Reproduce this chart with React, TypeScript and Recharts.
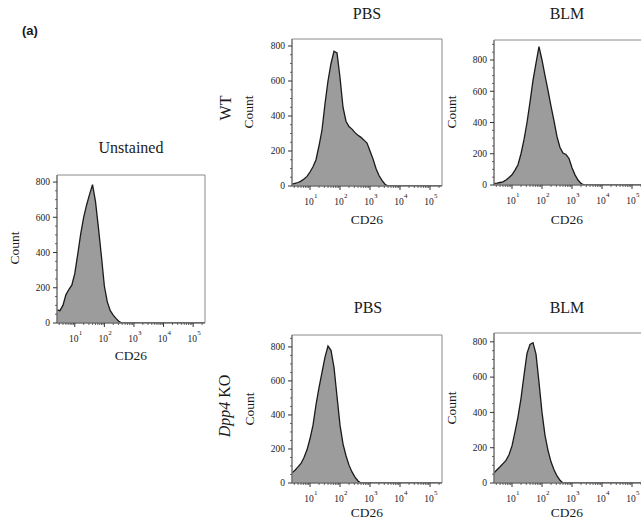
import React from 'react'
import { AreaChart, Area, XAxis, YAxis, ReferenceArea } from 'recharts'

// log10(CD26) bin centres, last one closes the histogram at the right edge
const LG_BINS = [0.4, 0.5, 0.6, 0.7, 0.8, 0.9, 1.0, 1.1, 1.2, 1.3, 1.4, 1.5, 1.6, 1.7, 1.8, 1.9, 2.0, 2.1, 2.2, 2.3, 2.4, 2.5, 2.6, 2.7, 2.8, 2.9, 3.0, 3.1, 3.2, 3.3, 3.4, 3.5, 3.6, 5.4]

const UNSTAINED = [75, 70, 100, 160, 190, 215, 280, 390, 505, 600, 670, 730, 785, 690, 540, 380, 210, 120, 70, 45, 25, 8, 0, 0, 0, 0, 0, 0, 0, 0, 0, 0, 0, 0]
const WT_PBS = [10, 15, 20, 28, 40, 55, 80, 110, 150, 230, 320, 470, 600, 700, 770, 760, 620, 450, 370, 340, 325, 305, 290, 278, 262, 245, 200, 155, 100, 60, 32, 10, 0, 0]
const WT_BLM = [10, 12, 16, 20, 32, 48, 65, 95, 130, 200, 290, 400, 530, 670, 780, 885, 800, 700, 605, 505, 410, 310, 240, 205, 195, 170, 110, 65, 32, 10, 0, 0, 0, 0]
const KO_PBS = [60, 75, 95, 115, 150, 195, 260, 340, 460, 560, 650, 740, 805, 780, 680, 510, 340, 230, 160, 105, 65, 35, 12, 0, 0, 0, 0, 0, 0, 0, 0, 0, 0, 0]
const KO_BLM = [57, 75, 92, 110, 128, 160, 210, 290, 375, 480, 610, 735, 785, 795, 730, 570, 400, 270, 185, 120, 75, 40, 15, 0, 0, 0, 0, 0, 0, 0, 0, 0, 0, 0]

const X_MAJOR = [1, 2, 3, 4, 5]
const Y_MAJOR = [0, 200, 400, 600, 800]
const X_DOMAIN: [number, number] = [0.4, 5.4]

const SERIF = '"Liberation Serif", "Times New Roman", serif'
const INK = '#1a1a1a'

function logMinorTicks() {
  const out: number[] = []
  for (let d = 0; d <= 5; d++) {
    for (let k = 2; k <= 9; k++) {
      const v = d + Math.log10(k)
      if (v > X_DOMAIN[0] && v < X_DOMAIN[1]) out.push(v)
    }
  }
  return out
}
const X_TICKS = [...X_MAJOR, ...logMinorTicks()].sort((a, b) => a - b)

function countTicks(max: number) {
  const out: number[] = []
  for (let v = 0; v < max; v += 50) out.push(v)
  return out
}

function LogTick({ x, y, payload }: any) {
  const v = payload.value
  if (!Number.isInteger(v)) {
    return <line x1={x} x2={x} y1={y} y2={y + 2} stroke="#444" strokeWidth={0.8} />
  }
  return (
    <g>
      <line x1={x} x2={x} y1={y} y2={y + 4} stroke="#333" strokeWidth={1} />
      <text x={x - 1} y={y + 19} textAnchor="middle" fontSize={9.5} fill={INK} fontFamily={SERIF}>10</text>
      <text x={x + 4} y={y + 12} fontSize={7} fill={INK} fontFamily={SERIF}>{v}</text>
    </g>
  )
}

function CountTick({ x, y, payload }: any) {
  const v = payload.value
  if (!Y_MAJOR.includes(v)) {
    return <line x1={x - 2} x2={x} y1={y} y2={y} stroke="#444" strokeWidth={0.8} />
  }
  return (
    <g>
      <line x1={x - 4} x2={x} y1={y} y2={y} stroke="#333" strokeWidth={1} />
      <text x={x - 7} y={y} dy="0.35em" textAnchor="end" fontSize={9.5} fill={INK} fontFamily={SERIF}>{v}</text>
    </g>
  )
}

const ML = 40
const MT = 4
const MB = 40
const MR = 4

function Histogram({ left, top, w, h, ymax, values }: { left: number; top: number; w: number; h: number; ymax: number; values: number[] }) {
  const rows = LG_BINS.map((lg, i) => ({ lg, count: values[i] }))
  return (
    <div style={{ position: 'absolute', left: left - ML, top: top - MT }}>
      <AreaChart width={w + ML + MR} height={h + MT + MB} data={rows} margin={{ top: MT, right: MR, bottom: 0, left: 0 }}>
        <XAxis xAxisId="b" type="number" dataKey="lg" domain={X_DOMAIN} ticks={X_TICKS} interval={0}
          height={MB} tickSize={0} tickMargin={0} tick={(p: any) => <LogTick {...p} />}
          axisLine={{ stroke: '#666' }} allowDataOverflow />
        <YAxis yAxisId="l" type="number" domain={[0, ymax]} ticks={countTicks(ymax)} interval={0}
          width={ML} tickSize={0} tickMargin={0} tick={(p: any) => <CountTick {...p} />}
          axisLine={{ stroke: '#666' }} allowDataOverflow />
        <Area xAxisId="b" yAxisId="l" type="linear" dataKey="count" fill="#9c9c9c" fillOpacity={1}
          stroke={INK} strokeWidth={1.3} isAnimationActive={false} dot={false} activeDot={false} />
        <ReferenceArea xAxisId="b" yAxisId="l" x1={X_DOMAIN[0]} x2={X_DOMAIN[1]} y1={0} y2={ymax}
          fill="none" stroke="#8a8a8a" strokeWidth={1} ifOverflow="visible" />
      </AreaChart>
    </div>
  )
}

function Txt({ x, y, size, rotate, children, style }: { x: number; y: number; size: number; rotate?: boolean; children: React.ReactNode; style?: React.CSSProperties }) {
  return (
    <div style={{
      position: 'absolute', left: x, top: y, fontSize: size, fontFamily: SERIF, color: INK,
      lineHeight: 1, whiteSpace: 'nowrap',
      transform: `translate(-50%, -50%)${rotate ? ' rotate(-90deg)' : ''}`,
      ...style,
    }}>{children}</div>
  )
}

export default function App() {
  return (
    <div style={{ position: 'absolute', left: 0, top: 0, width: 641, height: 522, overflow: 'hidden', background: '#fff' }}>
      <div style={{ position: 'absolute', left: 22, top: 24, fontSize: 13, fontWeight: 'bold', fontFamily: '"Liberation Sans", Arial, sans-serif', color: INK, lineHeight: 1 }}>(a)</div>

      <Txt x={131} y={148} size={16}>Unstained</Txt>
      <Txt x={367} y={14} size={16}>PBS</Txt>
      <Txt x={567} y={14} size={16}>BLM</Txt>
      <Txt x={368} y={308} size={16}>PBS</Txt>
      <Txt x={567} y={308} size={16}>BLM</Txt>

      <Txt x={226} y={108} size={16} rotate>WT</Txt>
      <Txt x={225} y={406} size={16} rotate><i>Dpp4</i> KO</Txt>

      <Txt x={15} y={248} size={13.5} rotate>Count</Txt>
      <Txt x={249} y={112} size={13.5} rotate>Count</Txt>
      <Txt x={452} y={112} size={13.5} rotate>Count</Txt>
      <Txt x={250} y={409} size={13.5} rotate>Count</Txt>
      <Txt x={452} y={408} size={13.5} rotate>Count</Txt>

      <Histogram left={57} top={175} w={148} h={148} ymax={840} values={UNSTAINED} />
      <Histogram left={292} top={39} w={150} h={147} ymax={840} values={WT_PBS} />
      <Histogram left={494} top={40} w={150} h={145} ymax={928} values={WT_BLM} />
      <Histogram left={292} top={335} w={150} h={148} ymax={870} values={KO_PBS} />
      <Histogram left={494} top={333} w={150} h={150} ymax={850} values={KO_BLM} />

      <Txt x={131} y={356} size={13.5}>CD26</Txt>
      <Txt x={367} y={220} size={13.5}>CD26</Txt>
      <Txt x={567} y={220} size={13.5}>CD26</Txt>
      <Txt x={367} y={513} size={13.5}>CD26</Txt>
      <Txt x={567} y={513} size={13.5}>CD26</Txt>
    </div>
  )
}
